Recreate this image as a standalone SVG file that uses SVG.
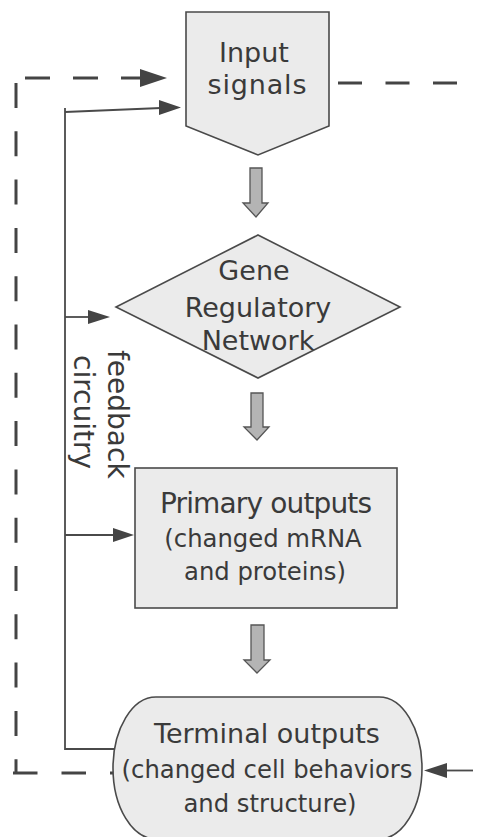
<svg xmlns="http://www.w3.org/2000/svg" width="482" height="837" viewBox="0 0 482 837">
<style>
  .node { fill: #ebebeb; stroke: #4a4a4a; stroke-width: 1.6; }
  .block { fill: #b4b4b4; stroke: #555; stroke-width: 1.3; }
  .solid { fill: none; stroke: #4a4a4a; stroke-width: 1.8; }
  .dash { fill: none; stroke: #444; stroke-width: 3; }
  .head { fill: #444; stroke: none; }
  text { font-family: "DejaVu Sans", "Liberation Sans", sans-serif; fill: #3a3a3a; text-anchor: middle; }
  .big { font-size: 27px; }
  .small { font-size: 24.3px; }
  .side { font-size: 28px; text-anchor: start; }
</style>
<rect width="482" height="837" fill="#ffffff"/>
<g id="connectors">
  <!-- dashed loop: terminal outputs back to input signals -->
  <line class="dash" x1="13" y1="773" x2="116" y2="773" stroke-dasharray="24.5 24"/>
  <line class="dash" x1="16" y1="83" x2="16" y2="773" stroke-dasharray="25 23.3"/>
  <line class="dash" x1="25" y1="78" x2="141" y2="78" stroke-dasharray="25 23"/>
  <polygon class="head" points="140,69 167,78 140,87"/>
  <!-- dashed output to the right -->
  <line class="dash" x1="338" y1="83" x2="460" y2="83" stroke-dasharray="24 23.5"/>
  <!-- incoming arrow on the right -->
  <line class="solid" x1="473" y1="770.5" x2="446" y2="770.5" stroke-width="2.4"/>
  <polygon class="head" points="447,763 424,770.5 447,778"/>
  <!-- feedback circuitry -->
  <polyline class="solid" points="115,749 65,749 65,108"/>
  <line class="solid" x1="65" y1="112" x2="161" y2="108"/>
  <polygon class="head" points="159,100 181,107.5 159,115"/>
  <line class="solid" x1="65" y1="317" x2="90" y2="317"/>
  <polygon class="head" points="88,310 110,317 88,324"/>
  <line class="solid" x1="65" y1="535" x2="115" y2="535"/>
  <polygon class="head" points="113,528 134,535 113,542"/>
  <!-- block arrows between stages -->
  <polygon class="block" points="250,168 262,168 262,203 268,203 256,217 243,203 250,203"/>
  <polygon class="block" points="251,393 263,393 263,427 269,427 257,440 244,427 251,427"/>
  <polygon class="block" points="251,625 264,625 264,660 270,660 257,673 244,660 251,660"/>
  <text class="side" transform="translate(108,350) rotate(90)">feedback</text>
  <text class="side" transform="translate(74,355) rotate(90)">circuitry</text>
</g>
<g id="input-signals">
  <polygon class="node" points="186,12 329,12 329,126 258,155 186,126"/>
  <text class="big" x="254" y="62">Input</text>
  <text class="big" x="257" y="94" textLength="99">signals</text>
</g>
<g id="gene-regulatory-network">
  <polygon class="node" points="258,235 400,307 258,378 116,307"/>
  <text class="big" x="254" y="280">Gene</text>
  <text class="big" x="258" y="317">Regulatory</text>
  <text class="big" x="258" y="350">Network</text>
</g>
<g id="primary-outputs">
  <rect class="node" x="135" y="468" width="262" height="140"/>
  <text class="big" x="266" y="513" style="font-size:28px" textLength="212">Primary outputs</text>
  <text class="small" x="263" y="547">(changed mRNA</text>
  <text class="small" x="265" y="580">and proteins)</text>
</g>
<g id="terminal-outputs">
  <path class="node" d="M156,697 H379 A43,71 0 0 1 379,839 H156 A43,71 0 0 1 156,697 Z"/>
  <text class="big" x="267" y="743">Terminal outputs</text>
  <text class="small" x="267" y="778">(changed cell behaviors</text>
  <text class="small" x="270" y="812">and structure)</text>
</g>
</svg>
